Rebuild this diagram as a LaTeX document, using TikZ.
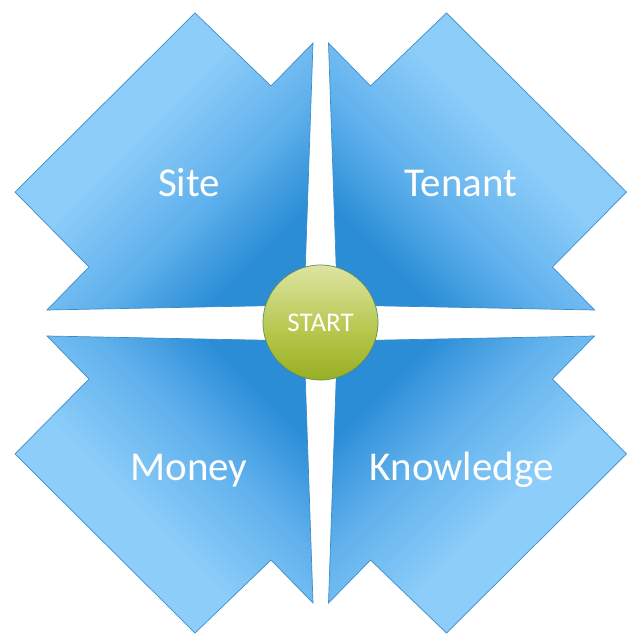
\documentclass[tikz,border=0pt]{standalone}
\usepackage{fontspec}
\newfontfamily\calib{Carlito}
\usetikzlibrary{shapes.geometric}
\definecolor{bluelight}{HTML}{8CCDF9}
\definecolor{bluemid}{HTML}{5FB0EC}
\definecolor{bluedark}{HTML}{2A8DD6}
\definecolor{blueline}{HTML}{3C8CC8}
\definecolor{greenlight}{HTML}{DDE4A2}
\definecolor{greenmid}{HTML}{B4C64A}
\definecolor{greendark}{HTML}{98AE22}
\definecolor{greenline}{HTML}{5E8C5C}
\pgfdeclareverticalshading{bluegrad}{100bp}{color(0bp)=(bluedark); color(27bp)=(bluedark); color(40bp)=(bluemid); color(56bp)=(bluelight); color(100bp)=(bluelight)}
\pgfdeclareverticalshading{greengrad}{100bp}{color(0bp)=(greendark); color(25bp)=(greendark); color(45bp)=(greenmid); color(75bp)=(greenlight); color(100bp)=(greenlight)}
\tikzset{
  quad/.style={draw=blueline, line width=0.7pt, line join=miter, shading=bluegrad},
  lbl/.style={text=white, font=\calib\fontsize{41}{43}\selectfont, anchor=base, inner sep=0pt},
  startnode/.style={circle, minimum size=115pt, inner sep=0pt, draw=greenline, line width=0.7pt,
    shading=greengrad,
    text=white, font=\calib\fontsize{27}{29}\selectfont}
}
\begin{document}
\begin{tikzpicture}[x=1pt,y=1pt]
\useasboundingbox (-320.75,-314) rectangle (313.25,323);
% Site (top-left)
\path[quad, shading angle=45] (-125.75,310) -- (-49.75,237) -- (-7.75,280) -- (-16.75,18) -- (-273.75,13) -- (-231.75,56) -- (-305.75,131) -- cycle;
% Tenant (top-right)
\path[quad, shading angle=-45] (125.75,310) -- (49.75,237) -- (7.75,280) -- (16.75,18) -- (273.75,13) -- (231.75,56) -- (305.75,131) -- cycle;
% Money (bottom-left)
\path[quad, shading angle=135] (-125.75,-310) -- (-49.75,-237) -- (-7.75,-280) -- (-16.75,-18) -- (-273.75,-13) -- (-231.75,-56) -- (-305.75,-131) -- cycle;
% Knowledge (bottom-right)
\path[quad, shading angle=225] (125.75,-310) -- (49.75,-237) -- (7.75,-280) -- (16.75,-18) -- (273.75,-13) -- (231.75,-56) -- (305.75,-131) -- cycle;
\node[lbl] (site) at (-131.75,126) {Site};
\node[lbl] (tenant) at (140.25,126) {Tenant};
\node[lbl] (money) at (-131.75,-157) {Money};
\node[lbl] (knowledge) at (141,-157) {Knowledge};
\node[startnode] (start) at (-0.25,0.5) {START};
\end{tikzpicture}
\end{document}
